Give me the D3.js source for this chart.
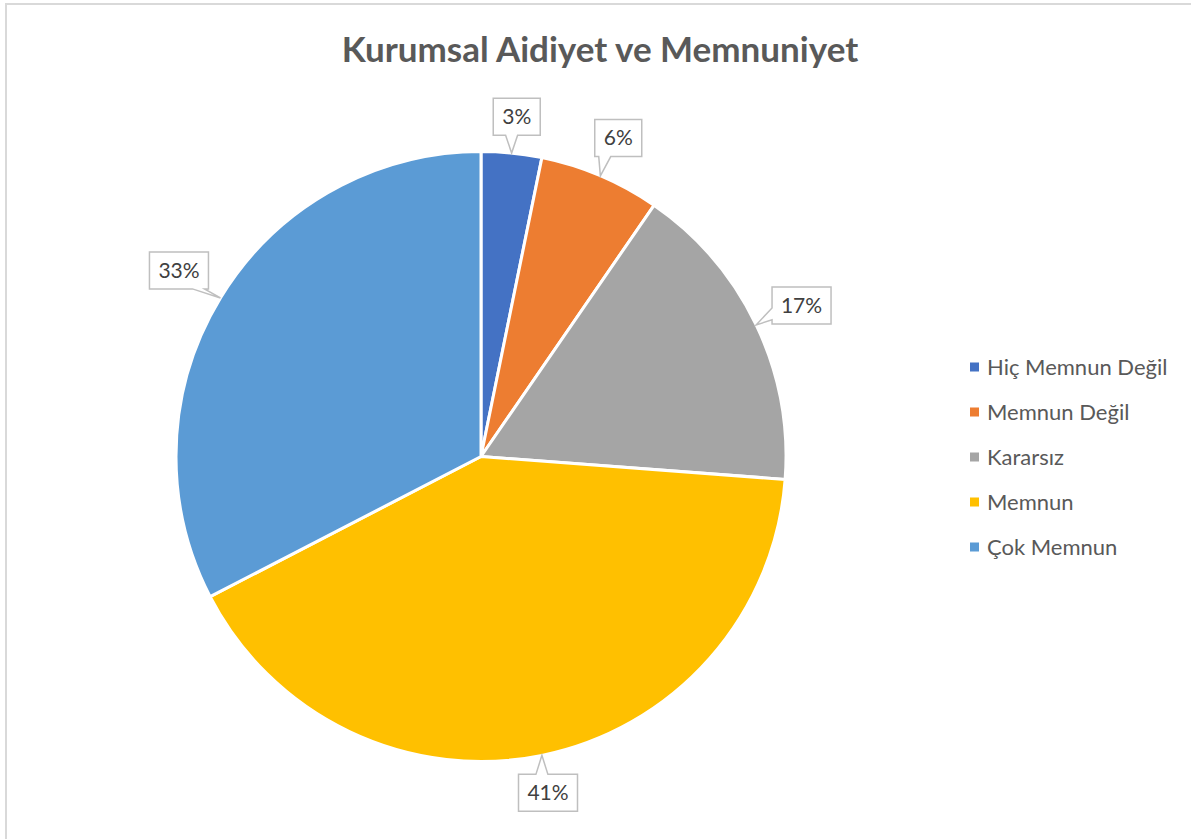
<!DOCTYPE html>
<html>
<head>
<meta charset="utf-8">
<script src="https://cdn.jsdelivr.net/npm/d3@7"></script>
<style>
  body { margin: 0; background: #fff; }
  svg text { font-family: Lato, "Open Sans", "Noto Sans", sans-serif; }
</style>
</head>
<body>
<svg id="chart" width="1191" height="839"></svg>
<script>
// data
const categories = ["Hiç Memnun Değil", "Memnun Değil", "Kararsız", "Memnun", "Çok Memnun"];
const shares = [3.2, 6.4, 16.6, 41.2, 32.6];
const colors = ["#4472C4", "#ED7D31", "#A5A5A5", "#FFC000", "#5B9BD5"];

const svg = d3.select("#chart");
const cx = 481, cy = 456.5, r = 305;

// chart area frame (runs off the right and bottom edges)
svg.append("rect")
  .attr("x", 6).attr("y", 4)
  .attr("width", 1300).attr("height", 900)
  .attr("fill", "none")
  .attr("stroke", "#d9d9d9")
  .attr("stroke-width", 2);

svg.append("text")
  .text("Kurumsal Aidiyet ve Memnuniyet")
  .attr("x", 600)
  .attr("y", 62)
  .attr("text-anchor", "middle")
  .attr("font-size", 35)
  .attr("font-weight", "bold")
  .attr("fill", "#595959");

const rows = categories.map((c, i) => ({ name: c, value: shares[i], color: colors[i] }));

const pie = d3.pie().sort(null).value(d => d.value);
const arc = d3.arc().innerRadius(0).outerRadius(r);
const arcs = pie(rows);

const g = svg.append("g").attr("transform", `translate(${cx},${cy})`);

g.selectAll("path.slice")
  .data(arcs)
  .join("path")
  .attr("class", "slice")
  .attr("d", arc)
  .attr("fill", d => d.data.color)
  .attr("stroke", "#fff")
  .attr("stroke-width", 3)
  .attr("stroke-linejoin", "round");

// data callouts
const boxH = 37, gap = 15, wedge = 6, margin = 10;

arcs.forEach(d => {
  const label = Math.round(d.data.value) + "%";
  const w = label.length > 2 ? 59 : 47;
  const a = (d.startAngle + d.endAngle) / 2;
  const ux = Math.sin(a), uy = -Math.cos(a);
  const tx = ux * r, ty = uy * r;
  // push the box a little clockwise, as the reference does near the top
  const b = a + 0.04;
  const vx = Math.sin(b), vy = -Math.cos(b);
  const ext = Math.abs(vx) * w / 2 + Math.abs(vy) * boxH / 2;
  const bx = tx + vx * (gap + ext), by = ty + vy * (gap + ext);
  const x0 = bx - w / 2, x1 = bx + w / 2, y0 = by - boxH / 2, y1 = by + boxH / 2;
  const dx = tx - bx, dy = ty - by;

  let p;
  if (Math.abs(dx) / (w / 2) > Math.abs(dy) / (boxH / 2)) {
    // wedge on a side edge
    const m = Math.max(y0 + margin, Math.min(y1 - margin, ty));
    if (dx < 0) {
      p = [[x0, y0], [x1, y0], [x1, y1], [x0, y1], [x0, m + wedge], [tx, ty], [x0, m - wedge]];
    } else {
      p = [[x0, y0], [x1, y0], [x1, m - wedge], [tx, ty], [x1, m + wedge], [x1, y1], [x0, y1]];
    }
  } else {
    const m = Math.max(x0 + margin, Math.min(x1 - margin, tx));
    if (dy < 0) {
      p = [[x0, y0], [m - wedge, y0], [tx, ty], [m + wedge, y0], [x1, y0], [x1, y1], [x0, y1]];
    } else {
      p = [[x0, y0], [x1, y0], [x1, y1], [m + wedge, y1], [tx, ty], [m - wedge, y1], [x0, y1]];
    }
  }

  g.append("path")
    .attr("d", "M" + p.map(q => q.join(",")).join("L") + "Z")
    .attr("fill", "#fff")
    .attr("stroke", "#bfbfbf")
    .attr("stroke-width", 1.5);

  g.append("text")
    .text(label)
    .attr("x", bx)
    .attr("y", by)
    .attr("dy", "0.35em")
    .attr("text-anchor", "middle")
    .attr("font-size", 21)
    .attr("fill", "#404040");
});

// legend
const legend = svg.append("g").attr("transform", "translate(970,367)");
const item = legend.selectAll("g")
  .data(rows)
  .join("g")
  .attr("transform", (d, i) => `translate(0,${i * 45})`);

item.append("rect")
  .attr("x", 0).attr("y", -4.5)
  .attr("width", 9).attr("height", 9)
  .attr("fill", d => d.color);

item.append("text")
  .text(d => d.name)
  .attr("x", 17)
  .attr("dy", "0.35em")
  .attr("font-size", 22)
  .attr("fill", "#595959");
</script>
</body>
</html>
